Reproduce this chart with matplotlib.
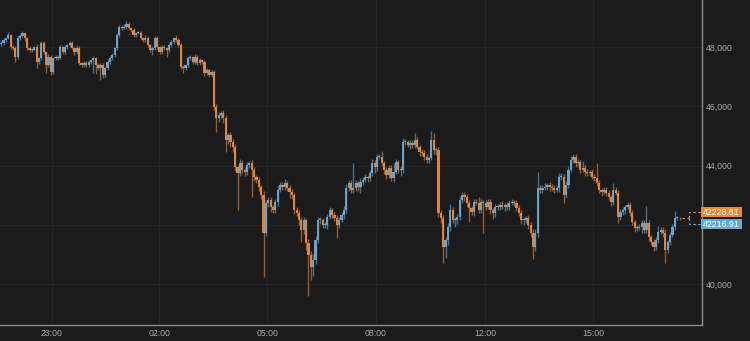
# Intraday candlestick chart (dark theme)

import numpy as np
import matplotlib
matplotlib.use('Agg')
import matplotlib.pyplot as plt
from matplotlib.patches import Rectangle
from matplotlib.transforms import IdentityTransform

# Price data (one candle each, open = previous close)
first_open = 48100
closes = [
    # 21:40 - 01:30
    48135, 48236, 48304, 48405, 48000, 47966, 47662, 48304, 48371, 48473, 48304, 47966,
    47899, 47900, 48000, 47494, 47629, 48135, 47831, 47393, 47662, 47156, 47629, 47662,
    47629, 48000, 47831, 48000, 48068, 48135, 47966, 47831, 47966, 47460, 47393, 47460,
    47393, 47494, 47561, 47629, 47393, 47291, 47393, 47055, 47291, 47494, 47629,
    # 01:30 - 04:30
    47730, 47966, 48405, 48675, 48641, 48675, 48776, 48641, 48574, 48405, 48473, 48473,
    48304, 48236, 48304, 48068, 47899, 47966, 48304, 48000, 47831, 48000, 47966, 47899,
    48068, 48169, 48304, 48236, 48068, 47325, 47291, 47393, 47629, 47662, 47494, 47662,
    47460, 47561, 47494, 47122, 47224, 47055, 47156, 45974, 45603, 45704, 45772, 45603,
    44860, 45029, 44793,
    # 04:30 - 07:30
    44624, 43949, 43746, 44084, 43848, 43780, 44016, 44084, 43848, 43612, 43510, 43274,
    43004, 41721, 42733, 42835, 42598, 42497, 42767, 43172, 43341, 43274, 43409, 43240,
    43105, 43004, 42497, 42396, 42159, 41822, 42159, 41383, 40978, 40573, 40809, 41484,
    42159, 42159, 41990, 41990, 42261, 42497, 42328, 42227, 41990, 42159, 42328, 42497,
    43240, 43409, 43172,
    # 07:30 - 10:30
    43240, 43409, 43274, 43443, 43510, 43612, 43578, 43746, 44084, 43949, 44286, 44286,
    44084, 43848, 43679, 43915, 43578, 43780, 44118, 43848, 43848, 44793, 44793, 44692,
    44759, 44692, 44860, 44624, 44455, 44421, 44286, 44185, 44253, 44860, 44523, 44523,
    42396, 42227, 41248, 41484, 41923, 42497, 42159, 42159, 42261, 42835, 43004, 42936,
    # 10:30 - 13:30
    42733, 42564, 42430, 42767, 42733, 42497, 42767, 42733, 42598, 42767, 42497, 42396,
    42598, 42598, 42666, 42598, 42666, 42598, 42733, 42767, 42733, 42564, 42396, 42159,
    42159, 42227, 41990, 41721, 41248, 41721, 43240, 43172, 43240, 43274, 43341, 43274,
    43240, 43172, 43240, 43612, 43612, 43004, 43341, 43848, 44185, 44286, 44084,
    # 13:30 - 17:00
    44118, 43848, 43915, 43780, 43746, 43780, 43612, 43578, 43409, 43172, 43105, 43172,
    43071, 42936, 42767, 43172, 43071, 42261, 42430, 42497, 42598, 42666, 42396, 42092,
    41889, 41889, 41923, 42058, 41822, 42058, 41585, 41416, 41248, 41484, 41754, 41822,
    41721, 41147, 41416, 41653, 41923, 42227, 42227, 42216.91,
]

# wick length above / below the body of each candle
up_wick = [
    60, 80, 50, 90, 40, 70, 60, 100, 60, 80, 50, 40,
    70, 60, 50, 90, 40, 80, 60, 50, 90, 60, 40, 70,
    80, 60, 50, 70, 40, 80, 60, 50, 90, 60, 40, 70,
    60, 80, 50, 60, 40, 70, 80, 60, 50, 90, 60,
    60, 50, 80, 70, 60, 90, 100, 60, 50, 70, 40, 80,
    60, 50, 90, 60, 40, 70, 80, 60, 50, 70, 60, 40,
    80, 60, 50, 90, 70, 60, 80, 50, 60, 70, 40, 90,
    60, 80, 50, 60, 70, 40, 80, 60, 120, 90, 80, 100,
    120, 80, 90,
    120, 100, 80, 150, 90, 100, 120, 80, 110, 90, 70, 100,
    80, 150, 120, 90, 100, 80, 110, 150, 90, 100, 120, 80,
    90, 100, 80, 120, 90, 110, 100, 80, 150, 120, 200, 130,
    90, 100, 80, 120, 90, 100, 80, 110, 90, 100, 120, 130,
    150, 100, 90,
    840, 100, 80, 120, 90, 100, 80, 110, 150, 90, 100, 120,
    200, 80, 100, 90, 120, 300, 100, 80, 120, 150, 100, 80,
    120, 90, 250, 100, 80, 120, 90, 100, 80, 300, 250, 120,
    100, 90, 120, 100, 150, 200, 120, 100, 90, 120, 100, 90,
    90, 100, 80, 120, 90, 200, 100, 80, 120, 90, 100, 80,
    110, 90, 100, 150, 80, 100, 90, 120, 80, 100, 90, 110,
    100, 80, 120, 100, 150, 120, 540, 100, 90, 120, 80, 100,
    90, 110, 100, 150, 120, 100, 150, 120, 150, 100, 120,
    100, 80, 250, 90, 100, 80, 120, 90, 500, 100, 80, 120,
    90, 100, 80, 240, 100, 120, 90, 100, 80, 120, 100, 90,
    80, 110, 100, 90, 120, 570, 100, 80, 120, 100, 200, 90,
    100, 120, 80, 100, 90, 240, 60, 40,
]
down_wick = [
    60, 50, 80, 40, 70, 60, 170, 50, 60, 40, 90, 60,
    50, 70, 40, 200, 60, 50, 80, 270, 60, 100, 50, 70,
    60, 40, 80, 50, 60, 70, 40, 90, 60, 50, 80, 60,
    70, 50, 60, 450, 300, 60, 400, 100, 60, 50, 70,
    70, 60, 50, 80, 60, 40, 70, 60, 50, 80, 60, 40,
    70, 60, 50, 80, 60, 150, 70, 60, 50, 80, 60, 250,
    70, 50, 60, 80, 60, 50, 170, 60, 80, 50, 70, 60,
    50, 80, 60, 100, 70, 60, 80, 100, 470, 120, 90, 150,
    400, 120, 150,
    150, 120, 1250, 100, 150, 120, 100, 90, 900, 120, 100, 150,
    120, 1500, 100, 120, 150, 90, 100, 120, 80, 100, 90, 110,
    200, 150, 120, 100, 150, 400, 120, 250, 1380, 440, 300, 150,
    100, 120, 90, 100, 120, 80, 100, 90, 440, 100, 80, 120,
    100, 90, 110,
    100, 90, 120, 200, 100, 80, 120, 90, 100, 200, 120, 80,
    100, 150, 120, 90, 100, 120, 80, 100, 200, 90, 100, 80,
    120, 90, 100, 80, 120, 100, 90, 110, 100, 80, 120, 150,
    120, 150, 540, 370, 150, 120, 100, 250, 120, 100, 90, 120,
    100, 470, 90, 120, 80, 100, 90, 1000, 100, 80, 120, 200,
    150, 90, 100, 80, 120, 90, 100, 80, 110, 90, 100, 120,
    150, 100, 120, 150, 400, 150, 120, 100, 90, 80, 100, 120,
    90, 100, 80, 120, 100, 270, 100, 90, 80, 100, 120,
    90, 100, 80, 120, 90, 100, 80, 110, 90, 100, 120, 80,
    100, 90, 120, 100, 80, 200, 100, 90, 120, 80, 100, 90,
    120, 100, 80, 200, 100, 90, 120, 100, 150, 90, 100, 80,
    120, 440, 100, 90, 80, 100, 60, 40,
]

time_labels = ['23:00', '02:00', '05:00', '08:00', '12:00', '15:00']
time_ticks = [21.4, 66.8, 112.5, 158.4, 204.6, 250.4]
price_ticks = [40000, 42000, 44000, 46000, 48000]
last_ask = 42228.81
last_bid = 42216.91

# colours
bg = '#1b1b1b'
up_col = '#6aa9d6'
down_col = '#e8893b'
text_col = '#a9a9a9'

closes = np.array(closes, dtype=float)
opens = np.concatenate([[first_open], closes[:-1]])
highs = np.maximum(opens, closes) + np.array(up_wick)
lows = np.minimum(opens, closes) - np.array(down_wick)
x = np.arange(len(closes))
cols = np.where(closes >= opens, up_col, down_col)

fig = plt.figure(figsize=(7.5, 3.41), dpi=100, facecolor=bg)
ax = fig.add_axes([0, 16 / 341, 702 / 750, 325 / 341], facecolor=bg)

# candles
ax.vlines(x, lows, highs, colors=cols, linewidth=1.0, alpha=0.6, zorder=2)
ax.bar(x, np.maximum(np.abs(closes - opens), 20), bottom=np.minimum(opens, closes),
       width=0.95, color=cols, alpha=0.95, linewidth=0, zorder=3)

ymin, ymax = 38616, 49590
ax.set_xlim(-0.5, 296.5)
ax.set_ylim(ymin, ymax)

# axes styling
ax.yaxis.tick_right()
ax.set_yticks(price_ticks, ['' if v == 42000 else f'{v:,}' for v in price_ticks])
ax.set_xticks(time_ticks, time_labels)
ax.tick_params(length=0, colors=text_col, labelsize=6.3)
ax.tick_params(axis='x', pad=3.2)
ax.tick_params(axis='y', pad=2.4)
for lbl in ax.get_xticklabels() + ax.get_yticklabels():
    lbl.set_fontfamily('Liberation Sans')
ax.grid(color='#252525', linewidth=0.8)
ax.set_axisbelow(True)
ax.spines['left'].set_visible(False)
ax.spines['top'].set_visible(False)
for s in ['right', 'bottom']:
    ax.spines[s].set_color('#8c8c8c')
    ax.spines[s].set_linewidth(1.0)

# last price markers
gap = 6 * (ymax - ymin) / 325
dash = (0, (2.2, 2.2))
ax.plot([x[-1] + 1.2, 291], [last_bid, last_bid], color=down_col, ls=dash, lw=0.8, clip_on=False)
ax.plot([291, 291, 296.5], [last_bid, last_bid + gap, last_bid + gap],
        color=down_col, ls=dash, lw=0.8, clip_on=False)
ax.plot([291, 291, 296.5], [last_bid, last_bid - gap, last_bid - gap],
        color=up_col, ls=dash, lw=0.8, clip_on=False)

fig.canvas.draw()
for price, yshift, colour in [(last_ask, 6, down_col), (last_bid, -6, up_col)]:
    yc = ax.transData.transform((0, last_bid))[1] + yshift
    fig.patches.append(Rectangle((701, yc - 5), 41, 10, transform=IdentityTransform(),
                                 facecolor=colour, edgecolor='none', figure=fig))
    fig.text(721.5, yc, f'{price:.2f}', transform=IdentityTransform(), ha='center',
             va='center', color='white', fontsize=6.3, family='Liberation Sans')

fig.savefig('out.png', dpi=100, facecolor=bg)
